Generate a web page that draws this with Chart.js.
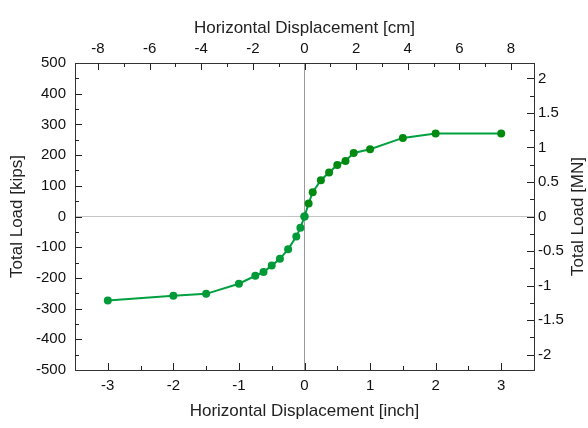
<!DOCTYPE html>
<html>
<head>
<meta charset="utf-8">
<script src="https://cdn.jsdelivr.net/npm/chart.js@4/dist/chart.umd.min.js"></script>
<style>
  html, body { margin: 0; padding: 0; background: #ffffff; }
  #wrap { width: 588px; height: 428px; }
</style>
</head>
<body>
<div id="wrap"><canvas id="c" width="588" height="428"></canvas></div>
<script>
// ---- data (inch, kips) ----
const negDisp = [-3, -2, -1.5, -1, -0.75, -0.625, -0.5, -0.375, -0.25, -0.125, -0.0625, 0];
const negLoad = [-274, -258, -252, -219, -193, -181, -160, -138, -107, -65, -37, 0];
const posDisp = [0, 0.0625, 0.125, 0.25, 0.375, 0.5, 0.625, 0.75, 1, 1.5, 2, 3];
const posLoad = [0, 42, 79, 118, 143, 168, 181, 207, 219, 256, 270, 270];

// ---- tick labels ----
const inchTicks = [-3, -2, -1, 0, 1, 2, 3];
const cmTicks = [-8, -6, -4, -2, 0, 2, 4, 6, 8];
const kipTicks = [-500, -400, -300, -200, -100, 0, 100, 200, 300, 400, 500];
const mnTicks = [-2, -1.5, -1, -0.5, 0, 0.5, 1, 1.5, 2];

// unit conversion
const CM_PER_IN = 2.54;
const KIPS_PER_MN = 224.809;
const X_MIN = -3.5, X_MAX = 3.5;
const Y_MIN = -500, Y_MAX = 500;

const FONT = '"Liberation Sans", Arial, Helvetica, sans-serif';
Chart.defaults.font.family = FONT;
Chart.defaults.font.size = 15;
Chart.defaults.color = '#111';
const TITLE_FONT = { family: FONT, size: 17 };

function toPts(xs, ys) { return xs.map((x, i) => ({ x: x, y: ys[i] })); }
function fixTicks(list) { return function (scale) { scale.ticks = list.map(v => ({ value: v })); }; }
const plainLabel = v => String(v);

// inward tick marks + right-hand title
const decor = {
  id: 'decor',
  afterDatasetsDraw(chart) {
    const ctx = chart.ctx;
    const a = chart.chartArea;
    const s = chart.scales;
    ctx.save();
    ctx.strokeStyle = '#222';
    ctx.lineWidth = 1;
    function vtick(scale, v, y0, dir, len) {
      const px = Math.round(scale.getPixelForValue(v)) + 0.5;
      ctx.beginPath(); ctx.moveTo(px, y0); ctx.lineTo(px, y0 + dir * len); ctx.stroke();
    }
    function htick(scale, v, x0, dir, len) {
      const py = Math.round(scale.getPixelForValue(v)) + 0.5;
      ctx.beginPath(); ctx.moveTo(x0, py); ctx.lineTo(x0 + dir * len, py); ctx.stroke();
    }
    // bottom (inch): major 1, minor 0.5
    for (let k = -7; k <= 7; k++) {
      const v = k * 0.5;
      if (v <= X_MIN || v >= X_MAX) continue;
      vtick(s.x, v, a.bottom, -1, (k % 2 === 0) ? 7 : 4);
    }
    // top (cm): major 2, minor 1
    for (let k = -8; k <= 8; k++) {
      vtick(s.x2, k, a.top, 1, (k % 2 === 0) ? 7 : 4);
    }
    // left (kips): major 100, minor 50
    for (let k = -9; k <= 9; k++) {
      htick(s.y, k * 50, a.left, 1, (k % 2 === 0) ? 7 : 4);
    }
    // right (MN): major 0.5, minor 0.25
    for (let k = -8; k <= 8; k++) {
      htick(s.y2, k * 0.25, a.right, -1, (k % 2 === 0) ? 7 : 4);
    }
    ctx.restore();

    // right title, reading bottom-to-top
    ctx.save();
    ctx.fillStyle = '#222';
    ctx.font = '17px ' + FONT;
    ctx.textAlign = 'center';
    ctx.textBaseline = 'middle';
    ctx.translate(578, (a.top + a.bottom) / 2);
    ctx.rotate(-Math.PI / 2);
    ctx.fillText('Total Load [MN]', 0, 0);
    ctx.restore();
  }
};

new Chart(document.getElementById('c'), {
  type: 'scatter',
  data: {
    datasets: [
      {
        data: toPts(negDisp, negLoad),
        showLine: true,
        borderColor: '#00a040',
        borderWidth: 2,
        pointBackgroundColor: '#009a38',
        pointBorderColor: '#009a38',
        pointRadius: 4,
        pointBorderWidth: 0,
        xAxisID: 'x', yAxisID: 'y'
      },
      {
        data: toPts(posDisp, posLoad),
        showLine: true,
        borderColor: '#00a040',
        borderWidth: 2,
        pointBackgroundColor: '#008a10',
        pointBorderColor: '#008a10',
        pointRadius: 4,
        pointBorderWidth: 0,
        xAxisID: 'x', yAxisID: 'y'
      }
    ]
  },
  options: {
    responsive: false,
    animation: false,
    events: [],
    layout: { padding: 0 },
    plugins: { legend: { display: false }, tooltip: { enabled: false } },
    scales: {
      x: {
        type: 'linear', position: 'bottom', min: X_MIN, max: X_MAX,
        afterBuildTicks: fixTicks(inchTicks),
        afterFit(scale) { scale.height = 58; },
        ticks: { padding: 7, maxRotation: 0, color: '#111', callback: plainLabel },
        grid: { drawTicks: false, color: c => (c.tick && c.tick.value === 0) ? '#9a9a9a' : 'rgba(0,0,0,0)' },
        border: { display: true, color: '#333', width: 1 },
        title: { display: true, text: 'Horizontal Displacement [inch]', color: '#222', font: TITLE_FONT, padding: { top: 0, bottom: 6 } }
      },
      x2: {
        type: 'linear', position: 'top', min: X_MIN * CM_PER_IN, max: X_MAX * CM_PER_IN,
        afterBuildTicks: fixTicks(cmTicks),
        afterFit(scale) { scale.height = 63; },
        ticks: { padding: 5, maxRotation: 0, color: '#111', callback: plainLabel },
        grid: { display: false, drawTicks: false },
        border: { display: true, color: '#333', width: 1 },
        title: { display: true, text: 'Horizontal Displacement [cm]', color: '#222', font: TITLE_FONT, padding: { top: 18, bottom: 0 } }
      },
      y: {
        type: 'linear', position: 'left', min: Y_MIN, max: Y_MAX,
        afterBuildTicks: fixTicks(kipTicks),
        afterFit(scale) { scale.width = 75; },
        ticks: { padding: 9, color: '#111', callback: plainLabel },
        grid: { drawTicks: false, color: c => (c.tick && c.tick.value === 0) ? '#c4c4c4' : 'rgba(0,0,0,0)' },
        border: { display: true, color: '#333', width: 1 },
        title: { display: true, text: 'Total Load [kips]', color: '#222', font: TITLE_FONT, padding: { top: 7, bottom: 0 } }
      },
      y2: {
        type: 'linear', position: 'right', min: Y_MIN / KIPS_PER_MN, max: Y_MAX / KIPS_PER_MN,
        afterBuildTicks: fixTicks(mnTicks),
        afterFit(scale) { scale.width = 54; },
        ticks: { padding: 4, color: '#111', callback: plainLabel },
        grid: { display: false, drawTicks: false },
        border: { display: true, color: '#333', width: 1 },
        title: { display: false }
      }
    }
  },
  plugins: [decor]
});
</script>
</body>
</html>
